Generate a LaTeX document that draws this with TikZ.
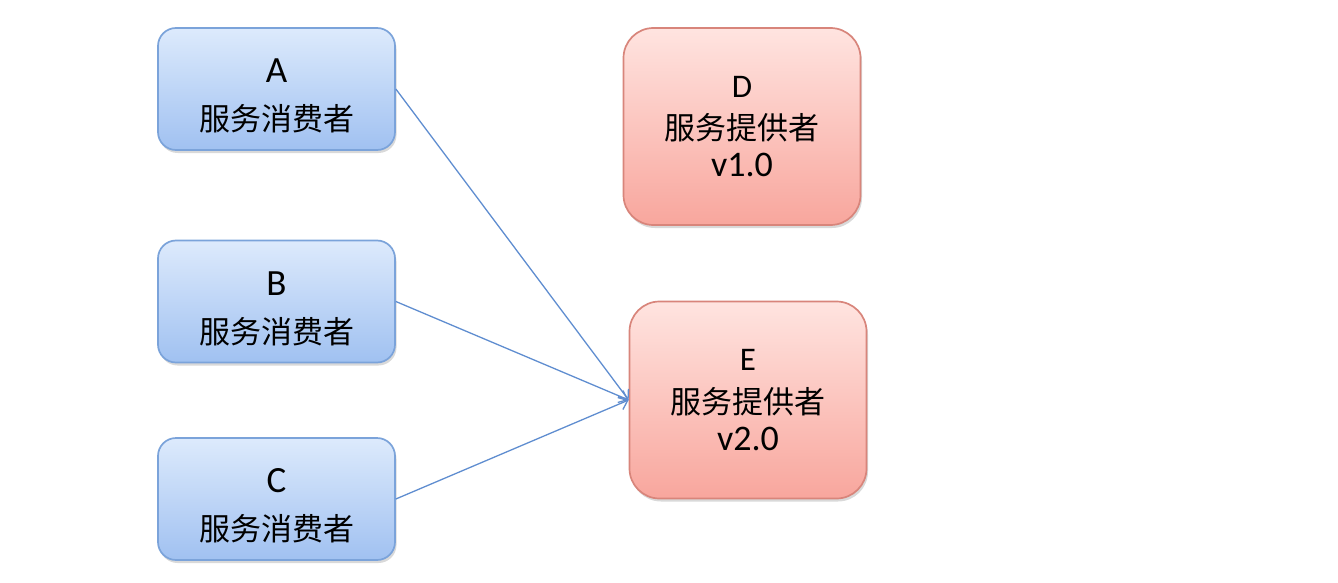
\documentclass[tikz,border=0pt]{standalone}
\usepackage{fontspec}
\setmainfont{Carlito}
\newfontfamily\cjk{Noto Sans CJK SC}
\usetikzlibrary{arrows.meta,shadows}
\definecolor{bluetop}{HTML}{DDEAFC}
\definecolor{bluebot}{HTML}{A0C1F1}
\definecolor{blueline}{HTML}{7BA3DA}
\definecolor{redtop}{HTML}{FFE4E0}
\definecolor{redbot}{HTML}{F8A69D}
\definecolor{redline}{HTML}{D8857B}
\definecolor{arrowcol}{HTML}{5F8DD0}
\begin{document}
\begin{tikzpicture}[x=1pt,y=-1pt,
  consumer/.style={draw=blueline, line width=1.7pt, rounded corners=18pt,
    top color=bluetop, bottom color=bluebot, minimum width=237pt, minimum height=122pt,
    inner sep=0pt, drop shadow={opacity=0.3, shadow xshift=1.5pt, shadow yshift=-3pt}},
  provider/.style={draw=redline, line width=1.7pt, rounded corners=30pt,
    top color=redtop, bottom color=redbot, minimum width=237pt, minimum height=197pt,
    inner sep=0pt, drop shadow={opacity=0.3, shadow xshift=1.5pt, shadow yshift=-3pt}},
  bigletter/.style={font=\fontsize{37}{42}\selectfont, inner sep=0pt},
  smallletter/.style={font=\fontsize{33}{36}\selectfont, inner sep=0pt},
  cn/.style={font=\cjk\fontsize{31}{34}\selectfont, inner sep=0pt},
  ver/.style={font=\fontsize{36}{40}\selectfont, inner sep=0pt},
  conn/.style={draw=arrowcol, line width=1.3pt, -{Straight Barb[length=8pt,width=13pt,line width=1.3pt]}}
]
\useasboundingbox (0,0) rectangle (1338,583);

% consumers
\node[consumer] (A) at (276.5,89) {};
\node[consumer] (B) at (276.5,301.5) {};
\node[consumer] (C) at (276.5,499) {};
\node[bigletter] (At) at ([yshift=18pt]A.center) {A};
\node[cn] (Ac) at ([yshift=-30pt]A.center) {服务消费者};
\node[bigletter] (Bt) at ([yshift=18pt]B.center) {B};
\node[cn] (Bc) at ([yshift=-30pt]B.center) {服务消费者};
\node[bigletter] (Ct) at ([yshift=18pt]C.center) {C};
\node[cn] (Cc) at ([yshift=-30pt]C.center) {服务消费者};

% providers
\node[provider] (D) at (742,126.5) {};
\node[provider] (E) at (748,400) {};
\node[smallletter] (Dt) at ([yshift=40pt]D.center) {D};
\node[cn] (Dc) at ([yshift=-1.5pt]D.center) {服务提供者};
\node[ver] (Dv) at ([yshift=-38.5pt]D.center) {v1.0};
\node[smallletter] (Et) at ([yshift=40pt]E.center) {E};
\node[cn] (Ec) at ([yshift=-1.5pt]E.center) {服务提供者};
\node[ver] (Ev) at ([yshift=-38.5pt]E.center) {v2.0};

% connectors
\draw[conn] (A.east) -- (E.west);
\draw[conn] (B.east) -- (E.west);
\draw[conn] (C.east) -- (E.west);
\end{tikzpicture}
\end{document}
